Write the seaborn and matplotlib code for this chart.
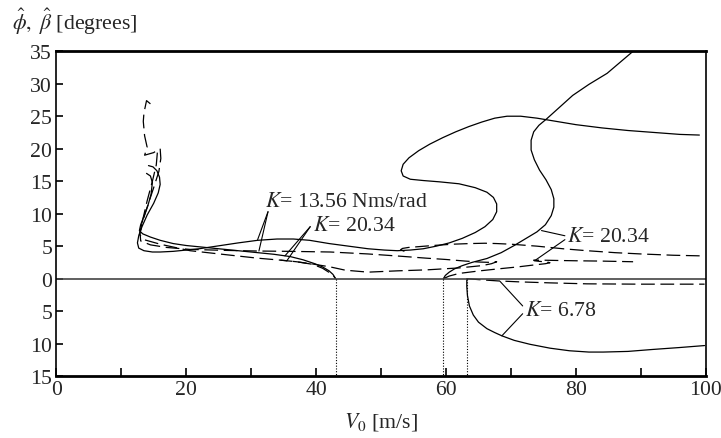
import numpy as np
import pandas as pd
import matplotlib
matplotlib.use("Agg")
import matplotlib.pyplot as plt
import seaborn as sns

# ---- data (V0 in m/s, amplitude in degrees) ----
# K = 13.56 Nms/rad, roll amplitude (solid)
phi_1356_v = [14.2, 14.9, 15.5, 15.9, 16.0, 15.7, 15.0, 14.0, 13.2, 12.7, 12.5, 12.7, 13.5, 14.8, 16.0,
              18.0, 20.0, 22.0, 24.0, 26.0, 28.0, 31.0, 34.0, 36.5, 39.0, 42.0, 45.0, 48.0, 50.5, 52.5,
              54.5, 56.5, 58.5, 60.5, 62.5, 64.5, 66.0, 67.2, 67.8, 67.8, 67.3, 66.3, 64.5, 62.0, 59.0,
              56.5, 54.5, 53.4, 53.1, 53.4, 54.3, 55.8, 57.5, 59.5, 61.5, 63.5, 65.5, 67.5, 69.4, 71.5,
              74.0, 77.0, 80.0, 84.0, 88.0, 92.0, 96.0, 99.0]
phi_1356_a = [17.4, 17.2, 16.6, 15.6, 14.5, 13.2, 11.6, 9.8, 8.0, 6.6, 5.5, 4.7, 4.3, 4.1, 4.1,
              4.2, 4.4, 4.6, 4.9, 5.2, 5.5, 5.9, 6.1, 6.1, 5.9, 5.4, 5.0, 4.6, 4.4, 4.3,
              4.4, 4.6, 5.0, 5.5, 6.2, 7.1, 8.0, 9.1, 10.3, 11.5, 12.5, 13.3, 14.0, 14.6, 14.9,
              15.1, 15.3, 15.8, 16.6, 17.6, 18.6, 19.7, 20.7, 21.7, 22.6, 23.4, 24.1, 24.7, 25.0, 25.0,
              24.7, 24.2, 23.7, 23.2, 22.8, 22.5, 22.2, 22.1]
# K = 13.56, steer amplitude (dashed): spike, upper run to the fold at 67.8, return underneath
beta_1356_v = [14.5, 13.9, 13.5, 13.4, 13.6, 14.0, 13.6, 15.0, 15.6, 15.4, 14.8, 14.0, 13.3, 12.9, 13.0,
               14.5, 17.0, 20.6, 26.0, 31.0, 36.0, 42.2, 48.0, 53.0, 57.0, 60.0, 63.0, 65.2, 67.0,
               67.8, 67.0, 65.5, 62.0, 57.0, 52.5, 48.0, 44.5, 42.2, 39.5, 37.0, 34.5]
beta_1356_a = [26.9, 27.4, 25.5, 24.2, 22.0, 20.2, 19.0, 19.4, 19.8, 17.5, 15.0, 12.0, 9.0, 7.0, 5.8,
               5.2, 4.8, 4.5, 4.35, 4.25, 4.2, 4.1, 3.8, 3.45, 3.15, 2.95, 2.7, 2.55, 2.5,
               2.6, 2.3, 2.0, 1.65, 1.35, 1.2, 1.0, 1.3, 1.8, 2.25, 2.6, 2.85]
# K = 13.56, steer amplitude (dashed), branch from the fold at 53 m/s out to 100 m/s
beta_1356u_v = [53.6, 53.0, 53.3, 54.2, 55.5, 58.0, 61.0, 63.7, 66.0, 67.8, 70.0, 74.0, 78.0, 81.7,
                86.0, 90.0, 95.0, 99.5]
beta_1356u_a = [4.2, 4.45, 4.65, 4.8, 4.9, 5.1, 5.3, 5.4, 5.45, 5.4, 5.3, 5.0, 4.6, 4.3,
                4.0, 3.8, 3.6, 3.5]
# K = 20.34, first branch (ends at Hopf point 43 m/s)
phi_2034a_v = [13.9, 14.5, 14.8, 14.6, 14.1, 13.5, 13.0, 12.8, 13.3, 14.5, 16.0, 18.0, 20.0, 22.0, 25.0,
               28.0, 31.0, 33.5, 36.0, 38.0, 39.8, 41.0, 42.0, 42.6, 43.0]
phi_2034a_a = [16.2, 15.8, 14.8, 13.0, 11.2, 9.6, 8.3, 7.4, 6.9, 6.4, 5.9, 5.4, 5.1, 4.9, 4.6,
               4.3, 4.0, 3.75, 3.4, 2.9, 2.3, 1.8, 1.2, 0.65, 0.0]
beta_2034a_v = [16.0, 16.1, 15.8, 15.0, 14.0, 13.2, 12.8, 13.5, 16.0, 20.6, 26.0, 31.0, 34.5, 37.0,
                39.5, 41.0, 42.1, 42.7, 43.0]
beta_2034a_a = [20.0, 18.5, 16.5, 14.0, 11.0, 8.5, 6.8, 6.0, 5.3, 4.3, 3.7, 3.15, 2.85, 2.6,
                2.2, 1.6, 0.9, 0.4, 0.0]
# K = 20.34, second branch (starts at Hopf point 59.6 m/s)
phi_2034b_v = [59.6, 59.9, 60.5, 61.3, 62.5, 64.0, 66.3, 68.5, 70.5, 72.5, 74.0, 75.3, 76.2, 76.6, 76.6,
               76.2, 75.4, 74.4, 73.6, 73.1, 73.1, 73.5, 74.3, 75.5, 77.5, 79.5, 82.0, 84.8, 86.8, 88.8]
phi_2034b_a = [0.0, 0.5, 1.0, 1.5, 2.0, 2.5, 3.1, 4.0, 5.1, 6.3, 7.2, 8.3, 9.7, 11.0, 12.3,
               13.7, 15.2, 16.7, 18.3, 19.8, 21.3, 22.6, 23.6, 24.6, 26.4, 28.2, 29.9, 31.6, 33.3, 35.0]
beta_2034b_v = [59.6, 60.5, 62.0, 65.2, 68.0, 71.0, 73.5, 75.3, 76.0, 75.6, 74.5, 73.6, 73.5, 74.5, 77.0,
                80.0, 84.0, 88.8]
beta_2034b_a = [0.0, 0.4, 0.8, 1.2, 1.5, 1.8, 2.1, 2.3, 2.45, 2.55, 2.65, 2.75, 2.85, 2.85, 2.8,
                2.75, 2.7, 2.6]
# K = 6.78 (drawn below the axis)
phi_678_v = [63.2, 63.2, 63.3, 63.6, 64.2, 65.0, 66.3, 67.5, 68.6, 70.5, 72.9, 76.0, 79.0, 82.0, 84.2,
             88.0, 91.8, 96.0, 99.8]
phi_678_a = [0.0, -1.2, -2.6, -4.2, -5.6, -6.7, -7.7, -8.3, -8.8, -9.5, -10.1, -10.7, -11.1, -11.3, -11.3,
             -11.2, -10.9, -10.6, -10.3]
beta_678_v = [63.2, 65.0, 68.0, 71.4, 76.0, 81.7, 90.0, 99.8]
beta_678_a = [0.0, -0.15, -0.35, -0.5, -0.65, -0.8, -0.85, -0.85]

hopf_v = [43.0, 59.6, 63.2]

xticks_major = [0, 20, 40, 60, 80, 100]
xticks_minor = [10, 30, 50, 70, 90]
yticks = [35, 30, 25, 20, 15, 10, 5, 0, -5, -10, -15]
ytick_labels = [str(abs(t)) for t in yticks]

sns.set_theme(style="ticks")
plt.rcParams["font.family"] = ["Liberation Serif", "DejaVu Serif"]
plt.rcParams["mathtext.fontset"] = "stix"

fig, ax = plt.subplots(figsize=(7.21, 4.39), dpi=100)
fig.subplots_adjust(left=0.078, right=0.979, top=0.881, bottom=0.141)

curves = [
    (phi_1356_v, phi_1356_a, "-"), (beta_1356_v, beta_1356_a, "--"), (beta_1356u_v, beta_1356u_a, "--"),
    (phi_2034a_v, phi_2034a_a, "-"), (beta_2034a_v, beta_2034a_a, "--"),
    (phi_2034b_v, phi_2034b_a, "-"), (beta_2034b_v, beta_2034b_a, "--"),
    (phi_678_v, phi_678_a, "-"), (beta_678_v, beta_678_a, "--"),
]
for v, a, ls in curves:
    df = pd.DataFrame({"v": v, "a": a})
    sns.lineplot(data=df, x="v", y="a", sort=False, estimator=None, color="black",
                 lw=0.9, ax=ax, dashes=False,
                 linestyle=ls if ls == "-" else (0, (11, 4.5)))

ax.axhline(0, color="#444444", lw=1.2)
for v in hopf_v:
    ax.plot([v, v], [0, -15], color="black", lw=0.8, ls=(0, (1, 1.5)))

# labels with leader lines
fs = 15.7
ax.text(32.15, 11.8, r"$K$= 13.56 Nms/rad", fontsize=fs, va="center")
ax.plot([32.6, 31.0], [10.3, 6.0], color="black", lw=0.8)
ax.plot([32.6, 31.2], [10.3, 4.25], color="black", lw=0.8)
ax.text(39.5, 8.2, r"$K$= 20.34", fontsize=fs, va="center")
ax.plot([39.1, 35.2], [8.0, 3.5], color="black", lw=0.8)
ax.plot([39.1, 35.5], [8.0, 2.75], color="black", lw=0.8)
ax.text(78.6, 6.5, r"$K$= 20.34", fontsize=fs, va="center")
ax.plot([78.3, 74.7], [6.6, 7.4], color="black", lw=0.8)
ax.plot([78.3, 73.7], [6.0, 2.8], color="black", lw=0.8)
ax.text(72.2, -4.9, r"$K$= 6.78", fontsize=fs, va="center")
ax.plot([71.8, 68.3], [-4.2, -0.4], color="black", lw=0.8)
ax.plot([71.8, 68.6], [-5.4, -8.8], color="black", lw=0.8)

ax.set_xlim(0, 100)
ax.set_ylim(-15, 35)
ax.set_xticks(xticks_major)
ax.set_xticks(xticks_minor, minor=True)
ax.set_yticks(yticks)
ax.set_yticklabels(ytick_labels)
ax.tick_params(axis="both", which="both", direction="in", length=6, width=1.2,
               labelsize=fs, color="black", pad=3)
ax.tick_params(axis="y", length=5)
for s in ax.spines.values():
    s.set_visible(True)
    s.set_color("black")
    s.set_linewidth(1.2)
ax.spines["bottom"].set_linewidth(2)
ax.spines["top"].set_linewidth(2)

ax.set_xlabel(r"$V_0$ [m/s]", fontsize=fs, labelpad=8)
ax.set_ylabel("")
fig.text(0.017, 0.95, r"$\hat{\phi},\ \hat{\beta}$ [degrees]", fontsize=fs, va="center")

fig.savefig("out.png", dpi=100)
